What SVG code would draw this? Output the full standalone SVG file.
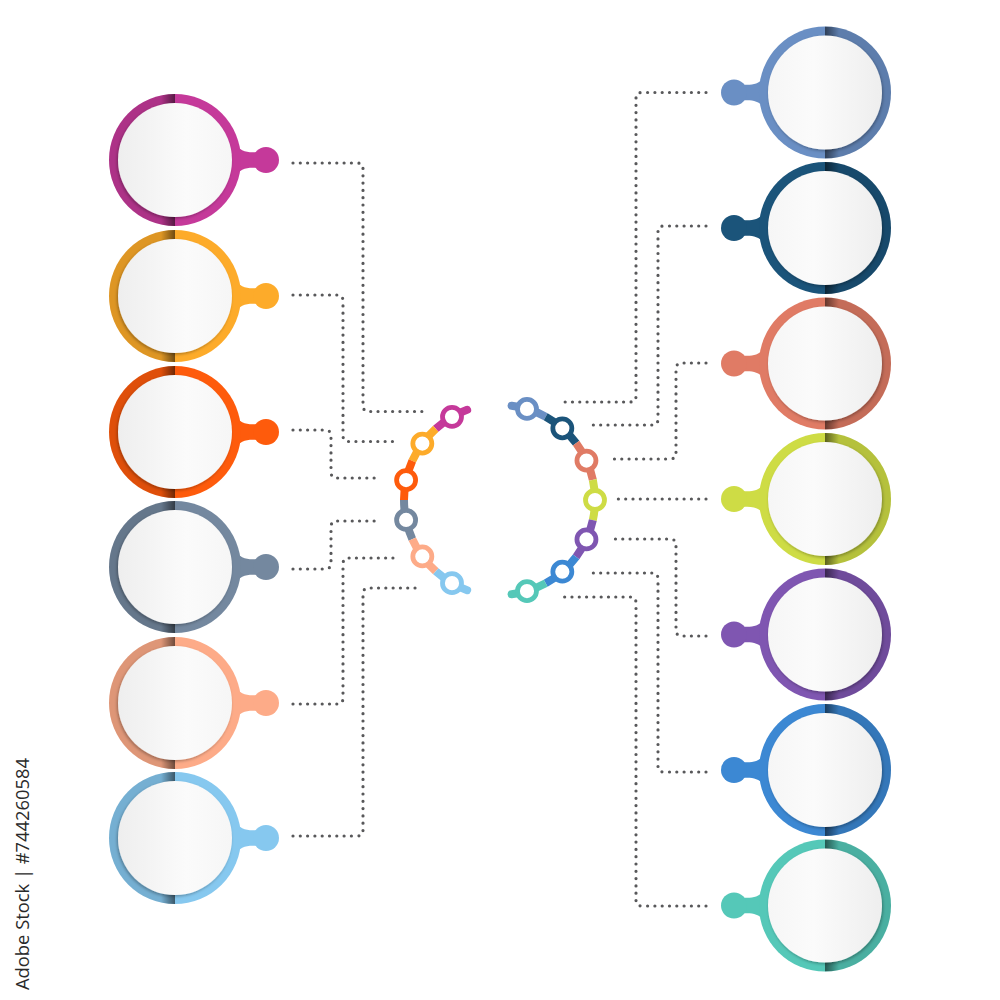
<svg xmlns="http://www.w3.org/2000/svg" xmlns:xlink="http://www.w3.org/1999/xlink" width="1000" height="1000" viewBox="0 0 1000 1000">
<style>
.dot{fill:none;stroke:#58585a;stroke-width:3.2;stroke-linecap:round;stroke-dasharray:0 7.3}
.seg{fill:none;stroke-width:8;stroke-linecap:butt}
.tail{fill:none;stroke-width:8;stroke-linecap:round}
.ring{fill:#fff;stroke-width:4.8}
.wm{font-family:"Open Sans","Liberation Sans",sans-serif;font-size:18px;fill:#2a2a2a}
</style>
<defs>
<linearGradient id="band" x1="0" y1="0" x2="1" y2="0">
<stop offset="0" stop-color="#000" stop-opacity="0"/>
<stop offset="1" stop-color="#000" stop-opacity="0.5"/>
</linearGradient>
<linearGradient id="disk" x1="0" y1="0" x2="1" y2="0">
<stop offset="0" stop-color="#eeeeee"/>
<stop offset="0.6" stop-color="#fbfbfb"/>
<stop offset="1" stop-color="#f6f6f6"/>
</linearGradient>
<clipPath id="clipRing"><circle r="66"/></clipPath>
<filter id="sh" x="-20%" y="-20%" width="140%" height="140%">
<feDropShadow dx="-1" dy="1.5" stdDeviation="1.5" flood-color="#000" flood-opacity="0.3"/>
</filter>
<g id="nodeL">
<path d="M58,-18 C66,-8 72,-7 84,-8 L84,8 C72,7 66,8 58,18 Z" fill="currentColor"/>
<circle cx="91" cy="0" r="13" fill="currentColor"/>
<circle r="66" fill="currentColor"/>
<path d="M0,-66 A66,66 0 0 0 0,66 Z" fill="#000" opacity="0.12"/>
<rect x="-14" y="-66" width="14" height="132" fill="url(#band)" clip-path="url(#clipRing)"/>
<circle r="57" fill="url(#disk)" filter="url(#sh)"/>
</g>
</defs>
<rect width="1000" height="1000" fill="#fff"/>

<g id="connectors">
<path class="dot" d="M293,163 H357 Q363,163 363,169 V405.5 Q363,411.5 369,411.5 H422"/>
<path class="dot" d="M293,295 H337 Q343,295 343,301 V435.5 Q343,441.5 349,441.5 H399"/>
<path class="dot" d="M293,430 H325 Q331,430 331,436 V472 Q331,478 337,478 H378"/>
<path class="dot" d="M293,569 H325 Q331,569 331,563 V527 Q331,521 337,521 H378"/>
<path class="dot" d="M293,704 H337 Q343,704 343,698 V564 Q343,558 349,558 H399"/>
<path class="dot" d="M293,836 H357 Q363,836 363,830 V594 Q363,588 369,588 H422"/>
<path class="dot" d="M706,92.5 H642 Q636,92.5 636,98.5 V396 Q636,402 630,402 H563"/>
<path class="dot" d="M706,226 H664 Q658,226 658,232 V419 Q658,425 652,425 H587"/>
<path class="dot" d="M706,363 H682 Q676,363 676,369 V453 Q676,459 670,459 H612"/>
<path class="dot" d="M706,499 H616"/>
<path class="dot" d="M706,636 H682 Q676,636 676,630 V545 Q676,539 670,539 H612"/>
<path class="dot" d="M706,772 H664 Q658,772 658,766 V579 Q658,573 652,573 H587"/>
<path class="dot" d="M706,906 H642 Q636,906 636,900 V603 Q636,597 630,597 H563"/>
</g>

<g id="arc-left">
<path class="tail" stroke="#c5399a" d="M467.17,409.79 A96,96 0 0 0 452,416.86"/>
<path class="seg" stroke="#c5399a" d="M452,416.86 A96,96 0 0 0 435.77,428.66"/>
<path class="seg" stroke="#fdab2a" d="M435.77,428.66 A96,96 0 0 0 412.30,460.95"/>
<path class="seg" stroke="#fe5b0c" d="M412.30,460.95 A96,96 0 0 0 404,500"/>
<path class="seg" stroke="#74889f" d="M404,500 A96,96 0 0 0 412.30,539.05"/>
<path class="seg" stroke="#fdab88" d="M412.30,539.05 A96,96 0 0 0 435.77,571.34"/>
<path class="seg" stroke="#86c8ef" d="M435.77,571.34 A96,96 0 0 0 452,583.14"/>
<path class="tail" stroke="#86c8ef" d="M452,583.14 A96,96 0 0 0 467.17,590.21"/>
<circle class="ring" stroke="#c5399a" cx="452" cy="416.86" r="9.5"/>
<circle class="ring" stroke="#fdab2a" cx="422.33" cy="443.57" r="9.5"/>
<circle class="ring" stroke="#fe5b0c" cx="406.10" cy="480.04" r="9.5"/>
<circle class="ring" stroke="#74889f" cx="406.10" cy="519.96" r="9.5"/>
<circle class="ring" stroke="#fdab88" cx="422.33" cy="556.43" r="9.5"/>
<circle class="ring" stroke="#86c8ef" cx="452" cy="583.14" r="9.5"/>
</g>

<g id="arc-right">
<path class="tail" stroke="#6a8fc4" d="M511.58,405.71 A95,95 0 0 1 526.98,408.91"/>
<path class="seg" stroke="#6a8fc4" d="M526.98,408.91 A95,95 0 0 1 545.69,416.71"/>
<path class="seg" stroke="#1b547a" d="M545.69,416.71 A95,95 0 0 1 576.12,443.16"/>
<path class="seg" stroke="#e07b65" d="M576.12,443.16 A95,95 0 0 1 592.84,479.84"/>
<path class="seg" stroke="#cedc45" d="M592.84,479.84 A95,95 0 0 1 592.84,520.16"/>
<path class="seg" stroke="#7f56b1" d="M592.84,520.16 A95,95 0 0 1 576.12,556.84"/>
<path class="seg" stroke="#3c88d3" d="M576.12,556.84 A95,95 0 0 1 545.69,583.29"/>
<path class="seg" stroke="#55c8b8" d="M545.69,583.29 A95,95 0 0 1 526.98,591.09"/>
<path class="tail" stroke="#55c8b8" d="M526.98,591.09 A95,95 0 0 1 511.58,594.29"/>
<circle class="ring" stroke="#6a8fc4" cx="526.98" cy="408.91" r="9.5"/>
<circle class="ring" stroke="#1b547a" cx="562.33" cy="428.30" r="9.5"/>
<circle class="ring" stroke="#e07b65" cx="586.45" cy="460.60" r="9.5"/>
<circle class="ring" stroke="#cedc45" cx="595" cy="500" r="9.5"/>
<circle class="ring" stroke="#7f56b1" cx="586.45" cy="539.40" r="9.5"/>
<circle class="ring" stroke="#3c88d3" cx="562.33" cy="571.70" r="9.5"/>
<circle class="ring" stroke="#55c8b8" cx="526.98" cy="591.09" r="9.5"/>
</g>

<g id="node-l1" transform="translate(175,160)" color="#c5399a"><use href="#nodeL" xlink:href="#nodeL"/></g>
<g id="node-l2" transform="translate(175,296)" color="#fdab2a"><use href="#nodeL" xlink:href="#nodeL"/></g>
<g id="node-l3" transform="translate(175,432)" color="#fe5b0c"><use href="#nodeL" xlink:href="#nodeL"/></g>
<g id="node-l4" transform="translate(175,567)" color="#74889f"><use href="#nodeL" xlink:href="#nodeL"/></g>
<g id="node-l5" transform="translate(175,703)" color="#fdab88"><use href="#nodeL" xlink:href="#nodeL"/></g>
<g id="node-l6" transform="translate(175,838)" color="#86c8ef"><use href="#nodeL" xlink:href="#nodeL"/></g>

<g id="node-r1" transform="translate(825,92.5) scale(-1,1)" color="#6a8fc4"><use href="#nodeL" xlink:href="#nodeL"/></g>
<g id="node-r2" transform="translate(825,228) scale(-1,1)" color="#1b547a"><use href="#nodeL" xlink:href="#nodeL"/></g>
<g id="node-r3" transform="translate(825,363.5) scale(-1,1)" color="#e07b65"><use href="#nodeL" xlink:href="#nodeL"/></g>
<g id="node-r4" transform="translate(825,499) scale(-1,1)" color="#cedc45"><use href="#nodeL" xlink:href="#nodeL"/></g>
<g id="node-r5" transform="translate(825,634.5) scale(-1,1)" color="#7f56b1"><use href="#nodeL" xlink:href="#nodeL"/></g>
<g id="node-r6" transform="translate(825,770) scale(-1,1)" color="#3c88d3"><use href="#nodeL" xlink:href="#nodeL"/></g>
<g id="node-r7" transform="translate(825,905.5) scale(-1,1)" color="#55c8b8"><use href="#nodeL" xlink:href="#nodeL"/></g>

<text class="wm" transform="translate(29,990) rotate(-90)" textLength="232" lengthAdjust="spacingAndGlyphs">Adobe Stock | #744260584</text>
</svg>
